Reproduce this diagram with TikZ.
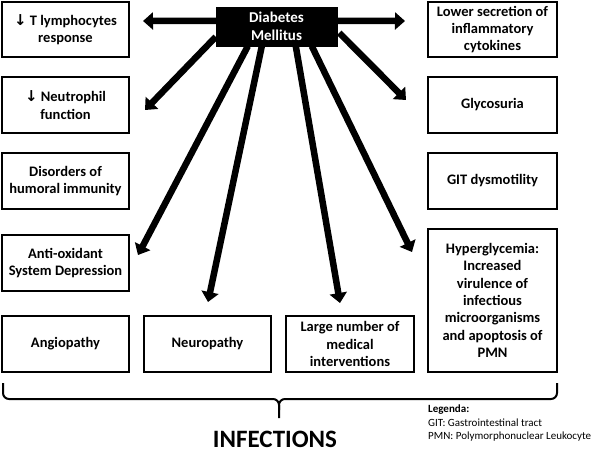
\documentclass[tikz,border=0pt]{standalone}
\usepackage{fontspec}
\setmainfont{Carlito}
\newfontfamily\symf{DejaVu Sans}
\usetikzlibrary{arrows.meta,calc}
\tikzset{
  box/.style={draw, line width=1.5pt, align=center, inner sep=0pt, font=\bfseries\fontsize{14.5}{17.3}\selectfont},
  bigarrow/.style={line width=6.5pt, -{Triangle[length=10pt 0, width=17pt 0]}},
  dmbox/.style={fill=black, draw=black, text=white, align=center, inner sep=0pt, minimum width=121pt, minimum height=39pt, font=\bfseries\fontsize{15}{18}\selectfont},
}
\newcommand{\dn}{{\symf\fontsize{15}{17}\selectfont ↓}}
\begin{document}
\begin{tikzpicture}[x=1pt,y=-1pt]
\useasboundingbox (0,0) rectangle (593,452);
\node[dmbox] (dm) at (276.5,26.5) {Diabetes\\Mellitus};
% left column
\node[box, minimum width=127pt, minimum height=55pt] (l1) at (65.5,29.5) {\dn\ T lymphocytes\\response};
\node[box, minimum width=127pt, minimum height=56pt] (l2) at (65.5,105) {\dn\ Neutrophil\\function};
\node[box, minimum width=127pt, minimum height=56pt] (l3) at (65.5,181) {Disorders of\\humoral immunity};
\node[box, minimum width=127pt, minimum height=56pt] (l4) at (65.5,263) {Anti-oxidant\\System Depression};
% right column
\node[box, minimum width=129pt, minimum height=55pt] (r1) at (492.5,29.5) {Lower secretion of\\inflammatory\\cytokines};
\node[box, minimum width=129pt, minimum height=56pt] (r2) at (492.5,105) {Glycosuria};
\node[box, minimum width=129pt, minimum height=56pt] (r3) at (492.5,181) {GIT dysmotility};
\node[box, minimum width=129pt, minimum height=143pt] (r4) at (492.5,300.5) {Hyperglycemia:\\Increased\\virulence of\\infectious\\microorganisms\\and apoptosis of\\PMN};
% bottom row
\node[box, minimum width=127pt, minimum height=56pt] (b1) at (65.5,344) {Angiopathy};
\node[box, minimum width=127pt, minimum height=56pt] (b2) at (207.5,344) {Neuropathy};
\node[box, minimum width=128pt, minimum height=56pt] (b3) at (350,344) {Large number of\\medical\\interventions};
% arrow tips
\coordinate (t1) at (143,21);
\coordinate (t2) at (145,110);
\coordinate (t3) at (138,255);
\coordinate (t4) at (208,302);
\coordinate (t5) at (340,303);
\coordinate (t6) at (412,252);
\coordinate (t7) at (406,100);
\coordinate (t8) at (405,21);
\draw[bigarrow] ($(dm.north west)+(0,14)$) -- (t1);
\draw[bigarrow] ($(dm.north west)+(0,30)$) -- (t2);
\draw[bigarrow] ($(dm.south west)+(32,0)$) -- (t3);
\draw[bigarrow] ($(dm.south west)+(46,0)$) -- (t4);
\draw[bigarrow] ($(dm.south west)+(80,0)$) -- (t5);
\draw[bigarrow] ($(dm.south west)+(96,0)$) -- (t6);
\draw[bigarrow] ($(dm.north east)+(2,26)$) -- (t7);
\draw[bigarrow] ($(dm.north east)+(0,14)$) -- (t8);
% brace
\coordinate (bl) at (3,383);
\coordinate (br) at (557,383);
\coordinate (btip) at (279,418);
\draw[line width=2pt, line join=round] (bl) -- (3,393) arc[start angle=180, end angle=270, x radius=6, y radius=-6] -- (273,399) arc[start angle=90, end angle=0, x radius=6, y radius=-6] -- (btip);
\draw[line width=2pt, line join=round] (br) -- (557,393) arc[start angle=0, end angle=-90, x radius=6, y radius=-6] -- (285,399) arc[start angle=90, end angle=180, x radius=6, y radius=-6] -- (279,410);
\node[font=\bfseries\fontsize{25}{30}\selectfont, anchor=base, inner sep=0pt] (inf) at (275,447) {INFECTIONS};
\node[anchor=north west, align=left, inner sep=0pt, font=\fontsize{11}{13.5}\selectfont] (leg) at (428,405) {\textbf{Legenda:}\\GIT: Gastrointestinal tract\\PMN: Polymorphonuclear Leukocyte};
\end{tikzpicture}
\end{document}
